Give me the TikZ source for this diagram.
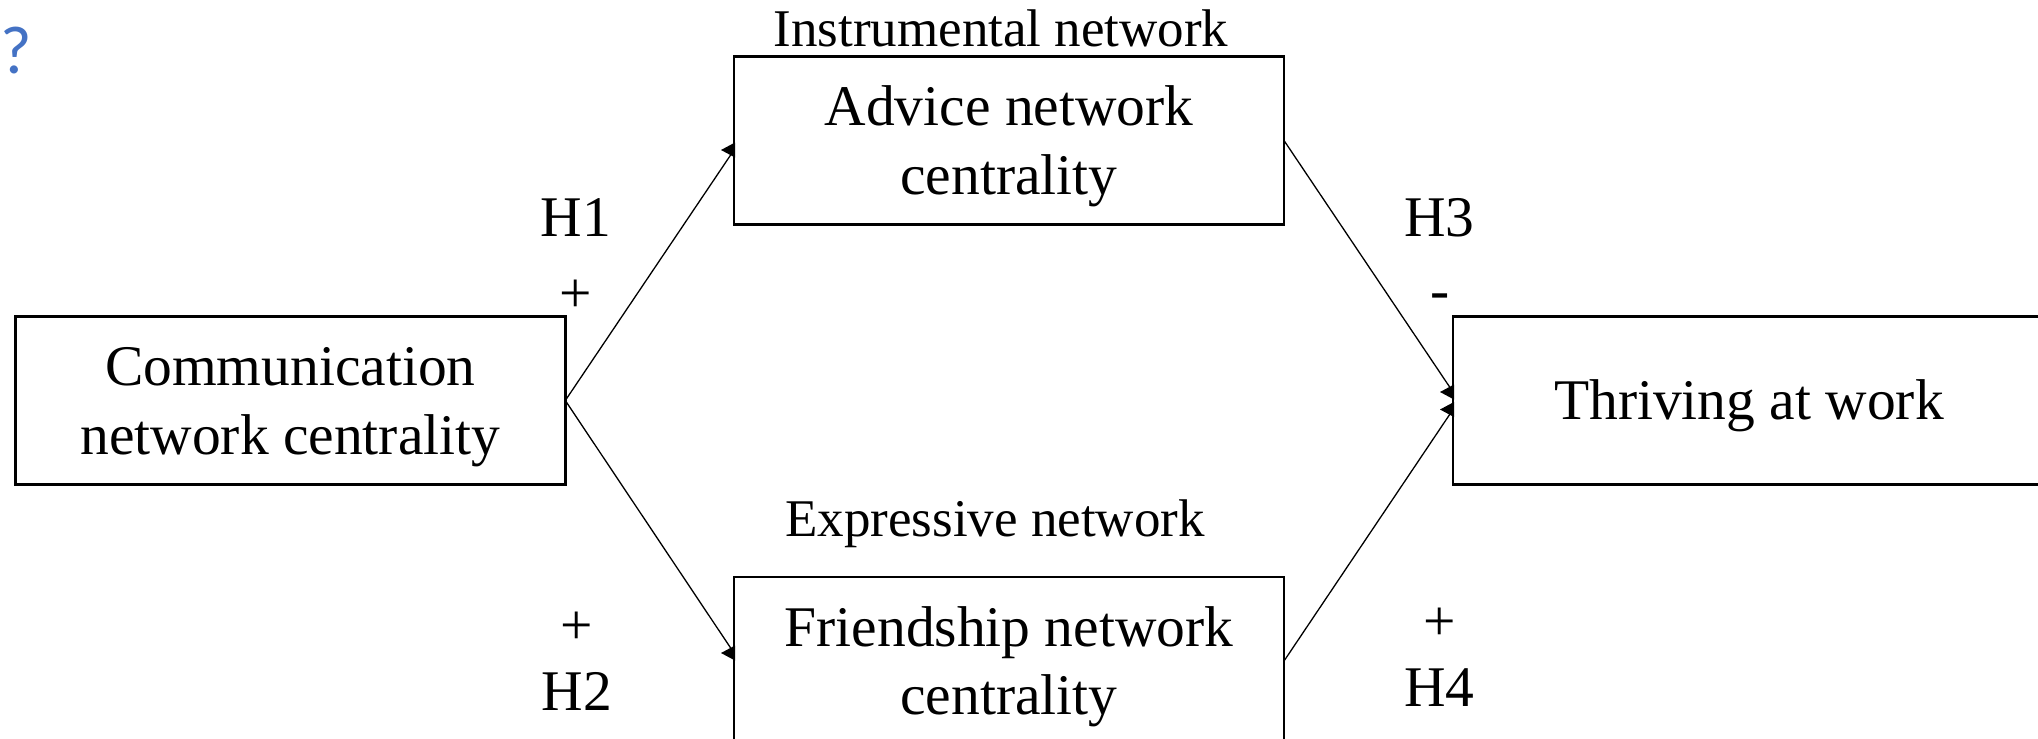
\documentclass[tikz,border=0pt]{standalone}
\usepackage{fontspec}
\setmainfont{Liberation Serif}
\newfontfamily\qfont{Carlito}
\definecolor{qblue}{HTML}{4472C4}
\newcommand\boxstrut{\rule[-12.4pt]{0pt}{63.6pt}}
\newcommand\tipAt[1]{\fill (#1) ++(1,7.5) -- ++(0,-15) -- ++(-14,7.5) -- cycle;}
\tikzset{
  boxnode/.style={draw, line width=2.4pt, inner sep=0pt, outer sep=0pt, align=center,
    font=\fontsize{57.5pt}{68.5pt}\selectfont},
  lbl/.style={inner sep=0pt, anchor=base, font=\fontsize{57.5pt}{68.5pt}\selectfont},
  netlbl/.style={inner sep=0pt, anchor=base, font=\fontsize{53pt}{63pt}\selectfont},
  conn/.style={line width=1.3pt},
}
\begin{document}
\begin{tikzpicture}[x=1pt,y=-1pt]
\useasboundingbox (0,0) rectangle (2038,739);
\clip (0,0) rectangle (2038,739);
\node[inner sep=0pt, anchor=base west, text=qblue, font=\qfont\fontsize{68pt}{80pt}\selectfont] (q) at (0,73) {?};
\node[boxnode, minimum width=550pt, minimum height=168pt] (comm) at (290.3,400.5) {\boxstrut Communication\\network centrality\boxstrut};
\node[boxnode, minimum width=550pt, minimum height=168pt] (adv) at (1009,140.5) {\boxstrut Advice network\\centrality\boxstrut};
\node[boxnode, minimum width=550pt, minimum height=168pt] (fri) at (1009,661) {\boxstrut Friendship network\\centrality\boxstrut};
\node[boxnode, minimum width=592pt, minimum height=168pt] (thr) at (1749,400.5) {\boxstrut Thriving at work\boxstrut};
\node[netlbl] (instr) at (1001,46.5) {Instrumental network};
\node[netlbl] (expr) at (995,536) {Expressive network};
\node[lbl] (h1) at (576,236) {H1};
\node[lbl] (p1) at (576,312) {+};
\node[lbl] (h3) at (1439.5,236) {H3};
\node[lbl] (m3) at (1440,309) {-};
\node[lbl] (p2) at (577,644) {+};
\node[lbl] (h2) at (577,710) {H2};
\node[lbl] (p4) at (1439.5,640) {+};
\node[lbl] (h4) at (1439.5,706.5) {H4};
\draw[conn] (comm.east) -- ([yshift=-9.5pt]adv.west);
\draw[conn] (comm.east) -- ([yshift=8pt]fri.west);
\draw[conn] (adv.east) -- ([yshift=8.5pt]thr.west);
\draw[conn] (fri.east) -- ([yshift=-9pt]thr.west);
\tipAt{[yshift=-9.5pt]adv.west}
\tipAt{[yshift=8pt]fri.west}
\tipAt{[yshift=8.5pt]thr.west}
\tipAt{[yshift=-9pt]thr.west}
\end{tikzpicture}
\end{document}
